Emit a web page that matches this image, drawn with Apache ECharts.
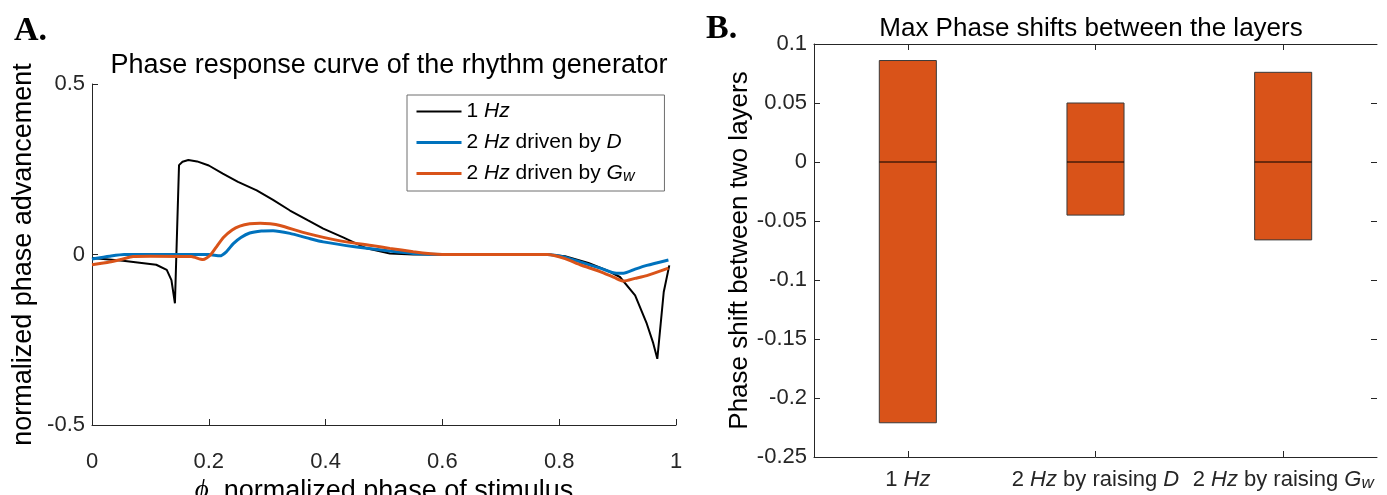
<!DOCTYPE html>
<html>
<head>
<meta charset="utf-8">
<script src="https://cdn.jsdelivr.net/npm/echarts@6/dist/echarts.min.js"></script>
<style>
  html, body { margin: 0; padding: 0; background: #fff; }
  #chart { width: 1387px; height: 495px; }
</style>
</head>
<body>
<div id="chart"></div>
<script>
// Panel A: phase response curves, [phase, normalized advancement]
const prc1Hz = [
  [0, -0.010], [0.053, -0.018], [0.11, -0.030], [0.128, -0.045], [0.136, -0.075],
  [0.142, -0.143], [0.149, 0.262], [0.155, 0.272], [0.165, 0.277], [0.18, 0.273],
  [0.2, 0.261], [0.224, 0.237], [0.25, 0.213], [0.282, 0.188], [0.31, 0.160],
  [0.339, 0.129], [0.37, 0.100], [0.396, 0.076], [0.43, 0.050], [0.47, 0.018],
  [0.51, 0.003], [0.55, 0], [0.78, 0], [0.81, -0.005], [0.85, -0.025],
  [0.88, -0.045], [0.904, -0.066], [0.93, -0.120], [0.95, -0.203], [0.961, -0.260],
  [0.968, -0.306], [0.979, -0.110], [0.9885, -0.032]
];
const prc2HzD = [
  [0, -0.013], [0.03, -0.005], [0.055, 0], [0.1, 0], [0.2, 0], [0.219, -0.004],
  [0.23, 0.008], [0.242, 0.032], [0.255, 0.050], [0.27, 0.063], [0.29, 0.069],
  [0.31, 0.070], [0.339, 0.062], [0.37, 0.048], [0.396, 0.037], [0.453, 0.022],
  [0.51, 0.010], [0.55, 0.003], [0.6, 0], [0.78, 0], [0.81, -0.008],
  [0.836, -0.022], [0.87, -0.040], [0.898, -0.055], [0.91, -0.055], [0.93, -0.043],
  [0.95, -0.032], [0.987, -0.016]
];
const prc2HzGw = [
  [0, -0.030], [0.03, -0.022], [0.053, -0.013], [0.07, -0.006], [0.1, -0.005],
  [0.17, -0.006], [0.19, -0.015], [0.202, -0.003], [0.212, 0.020], [0.225, 0.050],
  [0.24, 0.072], [0.253, 0.083], [0.27, 0.090], [0.288, 0.092], [0.305, 0.090],
  [0.322, 0.085], [0.368, 0.062], [0.425, 0.040], [0.481, 0.026], [0.51, 0.018],
  [0.55, 0.008], [0.58, 0.002], [0.6, 0], [0.78, 0], [0.81, -0.012],
  [0.836, -0.030], [0.87, -0.050], [0.895, -0.068], [0.91, -0.078], [0.93, -0.070],
  [0.95, -0.062], [0.987, -0.040]
];
const curveNames = ['1 Hz', '2 Hz driven by D', '2 Hz driven by Gw'];
const curveLabels = {
  '1 Hz': '1 {i|Hz}',
  '2 Hz driven by D': '2 {i|Hz} driven by {i|D}',
  '2 Hz driven by Gw': '2 {i|Hz} driven by {i|G}{s|w}'
};
const xTicksA = [0, 0.2, 0.4, 0.6, 0.8, 1];
const yTicksA = [-0.5, 0, 0.5];

// Panel B: range of phase shifts between the layers
const groups = ['1 Hz', '2 Hz by raising D', '2 Hz by raising Gw'];
const groupLabels = {
  '1 Hz': '1 {i|Hz}',
  '2 Hz by raising D': '2 {i|Hz} by raising {i|D}',
  '2 Hz by raising Gw': '2 {i|Hz} by raising {i|G}{s|w}'
};
const shiftLow = [-0.221, -0.045, -0.066];
const shiftHigh = [0.086, 0.050, 0.076];
const shiftMid = [0, 0, 0];
const yTicksB = [-0.25, -0.2, -0.15, -0.1, -0.05, 0, 0.05, 0.1];

const AX = '#262626';
const FONT = '"Liberation Sans", Arial, sans-serif';
const SERIF = '"Liberation Serif", "Times New Roman", serif';

const fmt = v => String(+v.toFixed(2));

const chart = echarts.init(document.getElementById('chart'), null, { renderer: 'canvas' });

const boxData = groups.map((g, i) => [i, shiftLow[i], shiftHigh[i], shiftMid[i]]);

const option = {
  backgroundColor: '#fff',
  animation: false,
  textStyle: { fontFamily: FONT },
  title: [
    { text: 'Phase response curve of the rhythm generator', left: 384, top: 47, textAlign: 'center',
      textStyle: { fontFamily: FONT, fontSize: 27, fontWeight: 'normal', color: '#000' } },
    { text: 'Max Phase shifts between the layers', left: 1086, top: 11, textAlign: 'center',
      textStyle: { fontFamily: FONT, fontSize: 26, fontWeight: 'normal', color: '#000' } }
  ],
  graphic: [
    { type: 'text', left: 14, top: 14, style: { text: 'A.', font: 'bold 34px ' + SERIF, fill: '#000' } },
    { type: 'text', left: 706, top: 12, style: { text: 'B.', font: 'bold 34px ' + SERIF, fill: '#000' } }
  ],
  legend: {
    data: curveNames,
    orient: 'vertical',
    left: 407, top: 95,
    padding: [5, 30, 6, 8],
    itemGap: 8,
    itemWidth: 45,
    itemHeight: 14,
    itemStyle: { opacity: 0 },
    lineStyle: { width: 'inherit' },
    borderColor: '#6e6e6e',
    borderWidth: 1,
    backgroundColor: '#fff',
    formatter: name => curveLabels[name],
    textStyle: {
      fontFamily: FONT, fontSize: 21, color: '#000', lineHeight: 23,
      rich: {
        i: { fontFamily: FONT, fontSize: 21, fontStyle: 'italic', color: '#000', lineHeight: 23 },
        s: { fontFamily: FONT, fontSize: 16, fontStyle: 'italic', color: '#000', lineHeight: 10, verticalAlign: 'bottom' }
      }
    }
  },
  grid: [
    { left: 92, right: 711, top: 84, bottom: 70, outerBoundsMode: 'none', containLabel: false },
    { left: 814, right: 10, top: 44, bottom: 38, outerBoundsMode: 'none', containLabel: false }
  ],
  xAxis: [
    {
      gridIndex: 0, type: 'value', min: 0, max: 1, interval: 0.2,
      name: '{phi|ϕ}, normalized phase of stimulus', nameLocation: 'middle', nameGap: 43,
      nameTextStyle: {
        fontFamily: FONT, fontSize: 27, color: '#000',
        rich: { phi: { fontFamily: SERIF, fontStyle: 'italic', fontSize: 27, color: '#000' } }
      },
      axisLine: { show: true, onZero: false, lineStyle: { color: AX, width: 1 } },
      axisTick: { show: true, inside: true, length: 6, lineStyle: { color: AX } },
      axisLabel: { fontFamily: FONT, fontSize: 22, color: '#262626', margin: 26,
        formatter: v => xTicksA.includes(+v.toFixed(2)) ? fmt(v) : '' },
      splitLine: { show: false }
    },
    {
      gridIndex: 1, type: 'category', data: groups, position: 'bottom',
      axisLine: { show: true, onZero: false, lineStyle: { color: AX, width: 1 } },
      axisTick: { show: true, inside: true, length: 6, alignWithLabel: true, lineStyle: { color: AX } },
      axisLabel: {
        interval: 0, fontFamily: FONT, fontSize: 22, color: '#262626', margin: 10, lineHeight: 25,
        formatter: v => groupLabels[v],
        rich: {
          i: { fontFamily: FONT, fontSize: 22, fontStyle: 'italic', color: '#262626', lineHeight: 25 },
          s: { fontFamily: FONT, fontSize: 17, fontStyle: 'italic', color: '#262626', lineHeight: 10, verticalAlign: 'bottom' }
        }
      },
      splitLine: { show: false }
    },
    {
      gridIndex: 1, type: 'category', data: groups, position: 'top',
      axisLine: { show: true, onZero: false, lineStyle: { color: AX, width: 1 } },
      axisTick: { show: true, inside: true, length: 6, alignWithLabel: true, lineStyle: { color: AX } },
      axisLabel: { show: false },
      splitLine: { show: false }
    }
  ],
  yAxis: [
    {
      gridIndex: 0, type: 'value', min: -0.5, max: 0.5, interval: 0.5,
      name: 'normalized phase advancement', nameLocation: 'middle', nameGap: 55,
      nameTextStyle: { fontFamily: FONT, fontSize: 27, color: '#000' },
      axisLine: { show: true, onZero: false, lineStyle: { color: AX, width: 1 } },
      axisTick: { show: true, inside: true, length: 6, lineStyle: { color: AX } },
      axisLabel: { fontFamily: FONT, fontSize: 22, color: '#262626', margin: 7,
        formatter: v => yTicksA.includes(+v.toFixed(2)) ? fmt(v) : '' },
      splitLine: { show: false }
    },
    {
      gridIndex: 1, type: 'value', min: -0.25, max: 0.1, interval: 0.05,
      name: 'Phase shift between two layers', nameLocation: 'middle', nameGap: 61,
      nameTextStyle: { fontFamily: FONT, fontSize: 26, color: '#000' },
      axisLine: { show: true, onZero: false, lineStyle: { color: AX, width: 1 } },
      axisTick: { show: true, inside: true, length: 6, lineStyle: { color: AX } },
      axisLabel: { fontFamily: FONT, fontSize: 22, color: '#262626', margin: 7,
        formatter: v => yTicksB.includes(+v.toFixed(2)) ? fmt(v) : '' },
      splitLine: { show: false }
    },
    {
      gridIndex: 1, type: 'value', min: -0.25, max: 0.1, interval: 0.05, position: 'right',
      axisLine: { show: false },
      axisTick: { show: true, inside: true, length: 6, lineStyle: { color: AX } },
      axisLabel: { show: false },
      splitLine: { show: false }
    }
  ],
  series: [
    {
      name: curveNames[0], type: 'line', xAxisIndex: 0, yAxisIndex: 0,
      data: prc1Hz, symbol: 'none', smooth: false,
      lineStyle: { color: '#000', width: 2 }, itemStyle: { color: '#000' }, z: 2
    },
    {
      name: curveNames[1], type: 'line', xAxisIndex: 0, yAxisIndex: 0,
      data: prc2HzD, symbol: 'none', smooth: 0.2,
      lineStyle: { color: '#0072BD', width: 3 }, itemStyle: { color: '#0072BD' }, z: 3
    },
    {
      name: curveNames[2], type: 'line', xAxisIndex: 0, yAxisIndex: 0,
      data: prc2HzGw, symbol: 'none', smooth: 0.2,
      lineStyle: { color: '#D95319', width: 3 }, itemStyle: { color: '#D95319' }, z: 4
    },
    {
      type: 'custom', xAxisIndex: 1, yAxisIndex: 1,
      data: boxData,
      encode: { x: 0, y: [1, 2] },
      renderItem: (params, api) => {
        const idx = api.value(0);
        const lo = api.coord([idx, api.value(1)]);
        const hi = api.coord([idx, api.value(2)]);
        const mid = api.coord([idx, api.value(3)]);
        const w = api.size([1, 0])[0] * 0.304;
        return {
          type: 'group',
          children: [
            {
              type: 'rect',
              shape: { x: lo[0] - w / 2, y: hi[1], width: w, height: lo[1] - hi[1] },
              style: { fill: '#D95319', stroke: '#3a3a3a', lineWidth: 1 }
            },
            {
              type: 'line',
              shape: { x1: mid[0] - w / 2, y1: mid[1], x2: mid[0] + w / 2, y2: mid[1] },
              style: { stroke: '#000', lineWidth: 1 }
            }
          ]
        };
      }
    }
  ]
};

chart.setOption(option);
</script>
</body>
</html>
